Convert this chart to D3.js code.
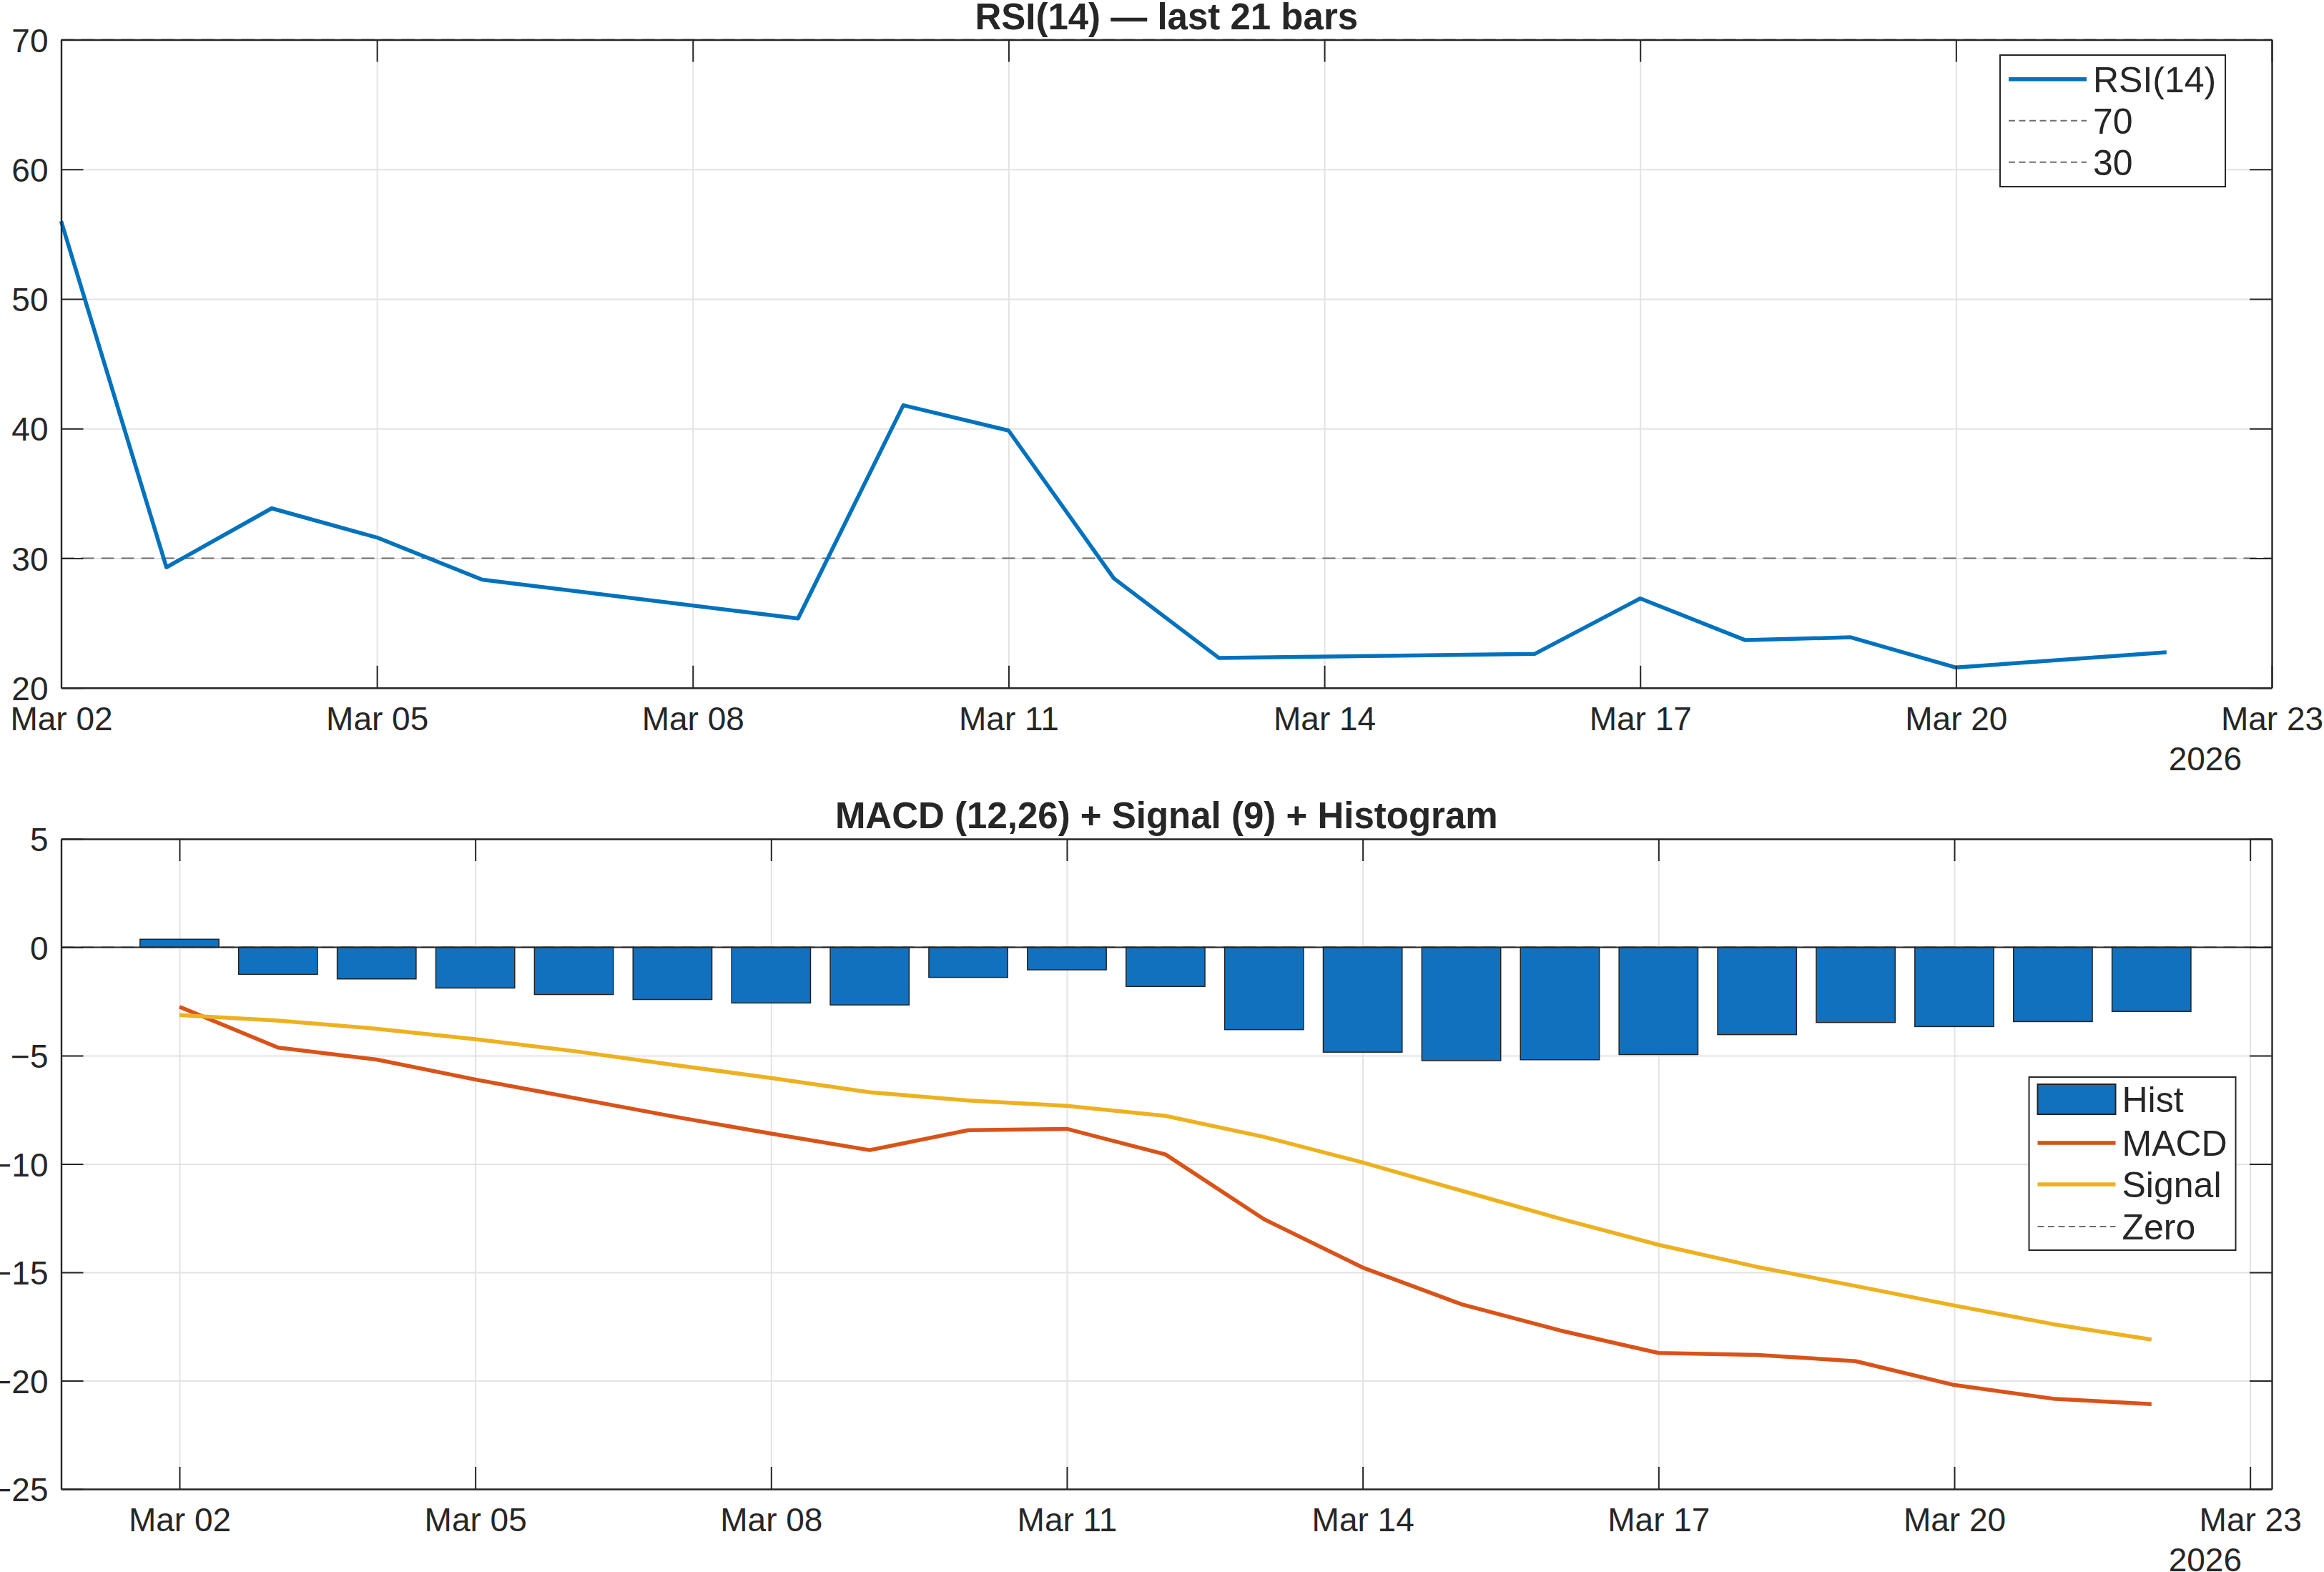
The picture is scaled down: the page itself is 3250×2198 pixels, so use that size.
<!DOCTYPE html>
<html>
<head>
<meta charset="utf-8">
<script src="https://cdn.jsdelivr.net/npm/d3@7"></script>
<style>
  body { margin: 0; background: #fff; }
  svg text { font-family: "Liberation Sans", Arial, Helvetica, sans-serif; fill: #262626; }
</style>
</head>
<body>
<div id="chart"></div>
<script>
// --- DATA ---
const rsiDates  = ['2026-03-02','2026-03-03','2026-03-04','2026-03-05','2026-03-06',
                   '2026-03-09','2026-03-10','2026-03-11','2026-03-12','2026-03-13',
                   '2026-03-16','2026-03-17','2026-03-18','2026-03-19','2026-03-20',
                   '2026-03-22'];
const rsiValues = [56.0, 29.3, 33.85, 31.6, 28.35,
                   25.35, 41.8, 39.85, 28.45, 22.3,
                   22.63, 26.9, 23.68, 23.9, 21.57,
                   22.75];
const rsiLevels = [70, 30];
const rsiYTicks = [20, 30, 40, 50, 60, 70];

const macdDates = ['2026-03-02','2026-03-03','2026-03-04','2026-03-05','2026-03-06','2026-03-07','2026-03-08',
                   '2026-03-09','2026-03-10','2026-03-11','2026-03-12','2026-03-13','2026-03-14','2026-03-15',
                   '2026-03-16','2026-03-17','2026-03-18','2026-03-19','2026-03-20','2026-03-21','2026-03-22'];
const histValues   = [0.37, -1.25, -1.46, -1.88, -2.18, -2.41, -2.57,
                      -2.66, -1.39, -1.04, -1.81, -3.80, -4.84, -5.23,
                      -5.19, -4.95, -4.03, -3.47, -3.66, -3.43, -2.96];
const macdValues   = [-2.75, -4.63, -5.18, -6.10, -6.95, -7.80, -8.60,
                      -9.36, -8.44, -8.38, -9.56, -12.55, -14.78, -16.47,
                      -17.68, -18.72, -18.81, -19.10, -20.20, -20.83, -21.08];
const signalValues = [-3.13, -3.38, -3.76, -4.24, -4.79, -5.42, -6.03,
                      -6.69, -7.07, -7.32, -7.78, -8.75, -9.93, -11.23,
                      -12.52, -13.73, -14.75, -15.63, -16.53, -17.39, -18.10];
const macdYTicks = [5, 0, -5, -10, -15, -20, -25];

const xTickDates = ['2026-03-02','2026-03-05','2026-03-08','2026-03-11',
                    '2026-03-14','2026-03-17','2026-03-20','2026-03-23'];
const yearLabel = '2026';

// --- CONFIGURATION ---
const width = 3250, height = 2198;
const left = 85.5, right = 3177;
const rsiPanel  = { top: 55.5, bottom: 961.8 };
const macdPanel = { top: 1173, bottom: 2082 };
const DAY = 864e5;
const tickLen = 31;
const lineW = 5.5;

const colors = { rsi: '#0072BD', hist: '#1171BE', macd: '#D95319', signal: '#EDB120',
                 ref: '#6e6e6e', axis: '#262626', grid: '#e3e3e3' };

const parse = d3.utcParse('%Y-%m-%d');
const xTicks = xTickDates.map(parse);

const svg = d3.select('#chart').append('svg')
  .attr('width', width)
  .attr('height', height);
svg.append('rect').attr('width', width).attr('height', height).attr('fill', '#fff');

// --- SHARED AXIS HELPERS ---
function drawGrid(x, y, p, yTicks) {
  const g = svg.append('g');
  g.append('g')
    .attr('transform', `translate(0,${p.bottom})`)
    .call(d3.axisBottom(x).tickValues(xTicks).tickSize(-(p.bottom - p.top)).tickFormat(''))
    .call(s => s.select('.domain').remove());
  g.append('g')
    .attr('transform', `translate(${left},0)`)
    .call(d3.axisLeft(y).tickValues(yTicks).tickSize(-(right - left)).tickFormat(''))
    .call(s => s.select('.domain').remove());
  g.selectAll('line').attr('stroke', colors.grid).attr('stroke-width', 2);
}

function drawAxes(x, y, p, yTicks, title) {
  const g = svg.append('g');

  const bottom = g.append('g')
    .attr('transform', `translate(0,${p.bottom})`)
    .call(d3.axisBottom(x).tickValues(xTicks).tickSizeInner(-tickLen).tickSizeOuter(0)
      .tickFormat(d3.utcFormat('%b %d')));
  bottom.selectAll('text').attr('y', 59).attr('dy', null);

  g.append('g')
    .attr('transform', `translate(0,${p.top})`)
    .call(d3.axisTop(x).tickValues(xTicks).tickSizeInner(-tickLen).tickSizeOuter(0).tickFormat(''));

  const leftAx = g.append('g')
    .attr('transform', `translate(${left},0)`)
    .call(d3.axisLeft(y).tickValues(yTicks).tickSizeInner(-tickLen).tickSizeOuter(0));
  leftAx.selectAll('text').attr('x', -18).attr('dy', '0.36em');

  g.append('g')
    .attr('transform', `translate(${right},0)`)
    .call(d3.axisRight(y).tickValues(yTicks).tickSizeInner(-tickLen).tickSizeOuter(0).tickFormat(''));

  g.selectAll('g').attr('font-family', null).attr('font-size', 46);
  g.selectAll('.domain').attr('stroke', colors.axis).attr('stroke-width', 2.4);
  g.selectAll('.tick line').attr('stroke', colors.axis).attr('stroke-width', 2);

  // year under the last tick
  g.append('text')
    .attr('x', 3135).attr('y', p.bottom + 115)
    .attr('text-anchor', 'end')
    .attr('font-size', 46)
    .text(yearLabel);

  g.append('text')
    .attr('x', (left + right) / 2).attr('y', p.top - 15)
    .attr('text-anchor', 'middle')
    .attr('font-size', 51)
    .attr('font-weight', 'bold')
    .text(title);
}

function drawLegend(x0, y0, w, h, items) {
  const g = svg.append('g');
  g.append('rect')
    .attr('x', x0).attr('y', y0).attr('width', w).attr('height', h)
    .attr('fill', '#fff').attr('stroke', colors.axis).attr('stroke-width', 2);
  items.forEach(it => {
    if (it.type === 'rect') {
      g.append('rect')
        .attr('x', x0 + 12).attr('y', it.y - 21).attr('width', 109).attr('height', 42)
        .attr('fill', it.color).attr('stroke', '#222').attr('stroke-width', 2);
    } else {
      g.append('line')
        .attr('x1', x0 + 12).attr('x2', x0 + 121)
        .attr('y1', it.y).attr('y2', it.y)
        .attr('stroke', it.color)
        .attr('stroke-width', it.dash ? 2 : lineW)
        .attr('stroke-dasharray', it.dash ? '9,5.5' : null);
    }
    g.append('text')
      .attr('x', x0 + 130).attr('y', it.y).attr('dy', '0.36em')
      .attr('font-size', 50)
      .text(it.label);
  });
}

// --- RSI PANEL ---
const rsiData = rsiDates.map((d, i) => ({ date: parse(d), v: rsiValues[i] }));

const xRsi = d3.scaleUtc()
  .domain([parse('2026-03-02'), parse('2026-03-23')])
  .range([left, right]);
const yRsi = d3.scaleLinear()
  .domain([20, 70])
  .range([rsiPanel.bottom, rsiPanel.top]);

drawGrid(xRsi, yRsi, rsiPanel, rsiYTicks);

svg.append('g').selectAll('line')
  .data(rsiLevels)
  .enter().append('line')
    .attr('x1', left).attr('x2', right)
    .attr('y1', d => yRsi(d)).attr('y2', d => yRsi(d))
    .attr('stroke', colors.ref).attr('stroke-width', 2)
    .attr('stroke-dasharray', '18,10');

svg.append('path')
  .datum(rsiData)
  .attr('fill', 'none')
  .attr('stroke', colors.rsi)
  .attr('stroke-width', lineW)
  .attr('stroke-linejoin', 'round')
  .attr('d', d3.line().x(d => xRsi(d.date)).y(d => yRsi(d.v)));

drawAxes(xRsi, yRsi, rsiPanel, rsiYTicks, 'RSI(14) \u2014 last 21 bars');

drawLegend(2797, 77, 315, 184, [
  { label: 'RSI(14)', color: colors.rsi, y: 110.7 },
  { label: '70', color: colors.ref, y: 168.7, dash: true },
  { label: '30', color: colors.ref, y: 226.7, dash: true }
]);

// --- MACD PANEL ---
const macdData = macdDates.map((d, i) => ({
  date: parse(d), hist: histValues[i], macd: macdValues[i], signal: signalValues[i]
}));

const xMacd = d3.scaleUtc()
  .domain([new Date(+parse('2026-03-02') - 1.2 * DAY), new Date(+parse('2026-03-23') + 0.22 * DAY)])
  .range([left, right]);
const yMacd = d3.scaleLinear()
  .domain([-25, 5])
  .range([macdPanel.bottom, macdPanel.top]);

drawGrid(xMacd, yMacd, macdPanel, macdYTicks);

const barW = 0.8 * (xMacd(parse('2026-03-03')) - xMacd(parse('2026-03-02')));

svg.append('line')
  .attr('x1', left).attr('x2', right)
  .attr('y1', yMacd(0)).attr('y2', yMacd(0))
  .attr('stroke', colors.ref).attr('stroke-width', 2)
  .attr('stroke-dasharray', '18,10');

svg.append('g').selectAll('rect')
  .data(macdData)
  .enter().append('rect')
    .attr('x', d => xMacd(d.date) - barW / 2)
    .attr('y', d => yMacd(Math.max(0, d.hist)))
    .attr('width', barW)
    .attr('height', d => Math.abs(yMacd(d.hist) - yMacd(0)))
    .attr('fill', colors.hist)
    .attr('stroke', '#222')
    .attr('stroke-width', 1.5);

// bar baseline
svg.append('line')
  .attr('x1', left).attr('x2', right)
  .attr('y1', yMacd(0)).attr('y2', yMacd(0))
  .attr('stroke', colors.axis).attr('stroke-width', 2);

[['macd', colors.macd], ['signal', colors.signal]].forEach(([key, col]) => {
  svg.append('path')
    .datum(macdData)
    .attr('fill', 'none')
    .attr('stroke', col)
    .attr('stroke-width', lineW)
    .attr('stroke-linejoin', 'round')
    .attr('d', d3.line().x(d => xMacd(d.date)).y(d => yMacd(d[key])));
});

drawAxes(xMacd, yMacd, macdPanel, macdYTicks, 'MACD (12,26) + Signal (9) + Histogram');

drawLegend(2837.5, 1506, 289, 242, [
  { label: 'Hist', color: colors.hist, y: 1537, type: 'rect' },
  { label: 'MACD', color: colors.macd, y: 1598 },
  { label: 'Signal', color: colors.signal, y: 1656 },
  { label: 'Zero', color: colors.ref, y: 1715, dash: true }
]);
</script>
</body>
</html>
